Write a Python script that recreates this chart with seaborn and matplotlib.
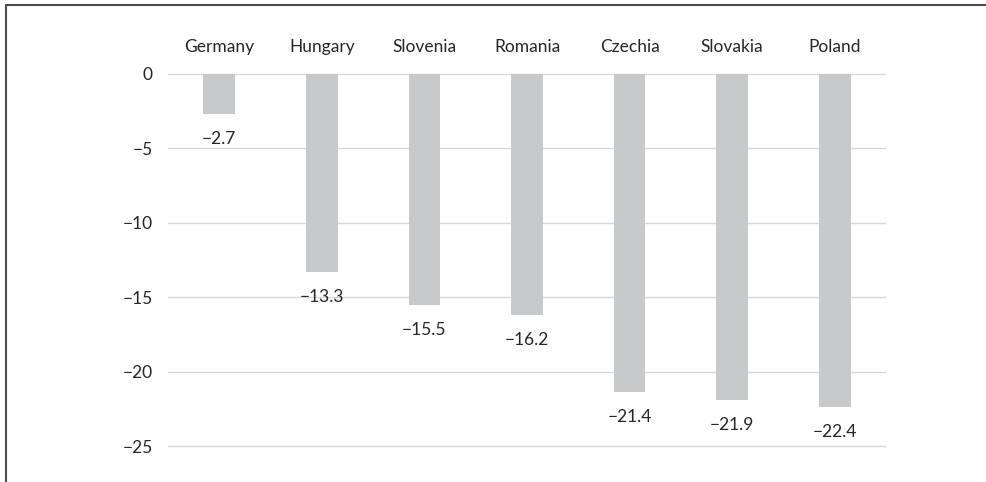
import matplotlib
matplotlib.use("Agg")
import matplotlib.pyplot as plt
from matplotlib.lines import Line2D
import seaborn as sns
import pandas as pd

countries = ["Germany", "Hungary", "Slovenia", "Romania", "Czechia", "Slovakia", "Poland"]
values = [-2.7, -13.3, -15.5, -16.2, -21.4, -21.9, -22.4]
yticks = [0, -5, -10, -15, -20, -25]

sns.set_theme(style="white")
plt.rcParams["font.family"] = ["Lato", "DejaVu Sans"]
text_color = "#262626"
fs = 12.5

df = pd.DataFrame({"country": countries, "value": values})

W, H = 986, 482
fig = plt.figure(figsize=(W / 100, H / 100), dpi=100)
# axes spans the gridline region
px_per_unit = (446 - 74) / 25
ylim_top, ylim_bot = 1.0, -27.0
top_px = 74 - ylim_top * px_per_unit
bot_px = 74 - ylim_bot * px_per_unit
ax = fig.add_axes([168 / W, 1 - bot_px / H, (886 - 168) / W, (bot_px - top_px) / H])

sns.barplot(data=df, x="country", y="value", color="#c8c9cb", width=0.31,
            saturation=1, linewidth=0, ax=ax, zorder=3)

ax.set_xlim(-0.5, len(countries) - 0.5)
ax.set_ylim(ylim_bot, ylim_top)
ax.set_yticks(yticks)
ax.set_yticklabels(["0" if v == 0 else f"\u2212{abs(v)}" for v in yticks])
ax.yaxis.grid(True, color="#d9d9d9", linewidth=1.0, zorder=0)
ax.xaxis.grid(False)
for s in ax.spines.values():
    s.set_visible(False)

ax.xaxis.tick_top()
ax.tick_params(axis="x", length=0, pad=3, labelsize=fs, colors=text_color)
ax.tick_params(axis="y", length=0, pad=11, labelsize=fs, colors=text_color)
ax.set_xlabel("")
ax.set_ylabel("")

for i, v in enumerate(values):
    ax.annotate(f"\u2212{abs(v):.1f}", xy=(i, v), xytext=(0, -18), textcoords="offset points",
                ha="center", va="center", fontsize=fs, color=text_color)

# frame lines along the top and left edges
fig.add_artist(Line2D([6 / W, 1], [1 - 5 / H, 1 - 5 / H], transform=fig.transFigure,
                      color="#4d4d4d", linewidth=1.5))
fig.add_artist(Line2D([6 / W, 6 / W], [0, 1 - 5 / H], transform=fig.transFigure,
                      color="#4d4d4d", linewidth=1.5))

fig.savefig("out.png", dpi=100)
